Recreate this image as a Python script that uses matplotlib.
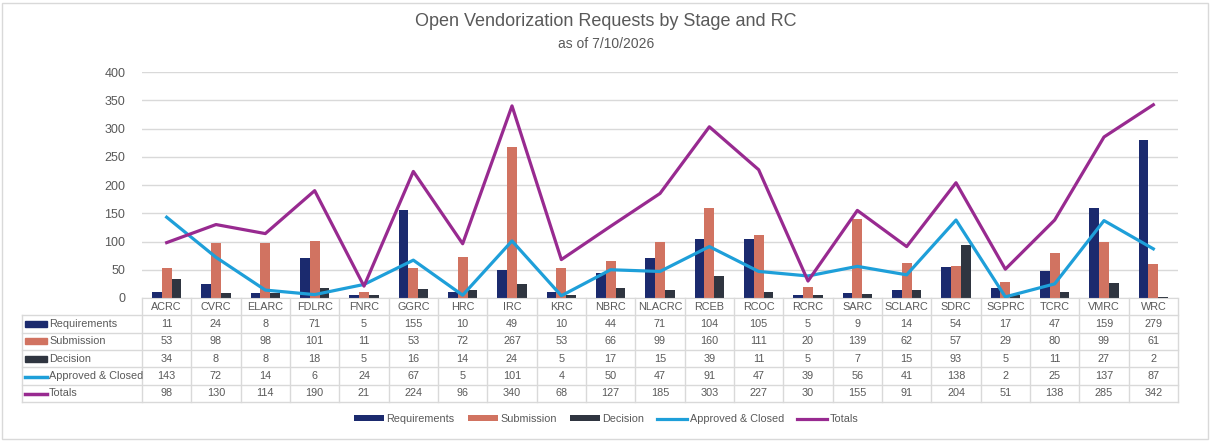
import matplotlib.pyplot as plt
import matplotlib.patches as mpatches
from matplotlib.lines import Line2D
import numpy as np

plt.rcParams['font.family'] = ['Liberation Sans', 'DejaVu Sans']

rcs = ['ACRC', 'CVRC', 'ELARC', 'FDLRC', 'FNRC', 'GGRC', 'HRC', 'IRC', 'KRC', 'NBRC', 'NLACRC',
       'RCEB', 'RCOC', 'RCRC', 'SARC', 'SCLARC', 'SDRC', 'SGPRC', 'TCRC', 'VMRC', 'WRC']
requirements = [11, 24, 8, 71, 5, 155, 10, 49, 10, 44, 71, 104, 105, 5, 9, 14, 54, 17, 47, 159, 279]
submission = [53, 98, 98, 101, 11, 53, 72, 267, 53, 66, 99, 160, 111, 20, 139, 62, 57, 29, 80, 99, 61]
decision = [34, 8, 8, 18, 5, 16, 14, 24, 5, 17, 15, 39, 11, 5, 7, 15, 93, 5, 11, 27, 2]
approved = [143, 72, 14, 6, 24, 67, 5, 101, 4, 50, 47, 91, 47, 39, 56, 41, 138, 2, 25, 137, 87]
totals = [98, 130, 114, 190, 21, 224, 96, 340, 68, 127, 185, 303, 227, 30, 155, 91, 204, 51, 138, 285, 342]

c_req = '#1b2a6e'
c_sub = '#d17361'
c_dec = '#2f3540'
c_app = '#1e9fd9'
c_tot = '#982a90'
txt = '#595959'
grid = '#d9d9d9'
fs = 7.8

W, H = 1212, 442
fig = plt.figure(figsize=(W / 100, H / 100), dpi=100)
fig.patches.append(mpatches.Rectangle((2 / W, 3 / H), 1206 / W, 436 / H, transform=fig.transFigure,
                                      fill=False, edgecolor='#d9d9d9', linewidth=1))

px = lambda x: x / W
py = lambda y: 1 - y / H

left, right, top, bottom = 142, 1178, 72, 298
ax = fig.add_axes([px(left), py(bottom), px(right - left), (bottom - top) / H])

x = np.arange(len(rcs))
bw = 0.2
b1 = ax.bar(x - bw, requirements, bw, color=c_req, label='Requirements', zorder=2)
b2 = ax.bar(x, submission, bw, color=c_sub, label='Submission', zorder=2)
b3 = ax.bar(x + bw, decision, bw, color=c_dec, label='Decision', zorder=2)
l1, = ax.plot(x, approved, color=c_app, lw=2.3, label='Approved & Closed', zorder=3)
l2, = ax.plot(x, totals, color=c_tot, lw=2.3, label='Totals', zorder=3)

ax.set_xlim(-0.5, len(rcs) - 0.5)
ax.set_ylim(0, 400)
ax.set_yticks(range(0, 401, 50))
ax.yaxis.grid(True, color=grid, lw=1)
ax.set_axisbelow(True)
for s in ['top', 'right', 'left']:
    ax.spines[s].set_visible(False)
ax.spines['bottom'].set_color(grid)
ax.set_xticks([])
ax.tick_params(axis='y', length=0, labelsize=9, labelcolor=txt, pad=12)

# data table below the plot
row_h = 17.3
hdr_top = bottom
rows = [('Requirements', requirements, c_req, 'bar'),
        ('Submission', submission, c_sub, 'bar'),
        ('Decision', decision, c_dec, 'bar'),
        ('Approved & Closed', approved, c_app, 'line'),
        ('Totals', totals, c_tot, 'line')]
tab_left = 22
tab_bot = hdr_top + row_h * (len(rows) + 1)
colw = (right - left) / len(rcs)
lc = '#d9d9d9'

for i in range(len(rcs) + 1):
    xx = left + i * colw
    fig.add_artist(Line2D([px(xx), px(xx)], [py(hdr_top), py(tab_bot)], color=lc, lw=1))
fig.add_artist(Line2D([px(tab_left), px(tab_left)], [py(hdr_top + row_h), py(tab_bot)], color=lc, lw=1))
for j in range(1, len(rows) + 2):
    yy = hdr_top + j * row_h
    fig.add_artist(Line2D([px(tab_left), px(right)], [py(yy), py(yy)], color=lc, lw=1))

for i, name in enumerate(rcs):
    fig.text(px(left + (i + 0.5) * colw), py(hdr_top + row_h / 2), name, ha='center', va='center',
             fontsize=fs, color=txt)

for j, (label, vals, col, kind) in enumerate(rows):
    yc = hdr_top + (j + 1.5) * row_h
    if kind == 'bar':
        fig.patches.append(mpatches.Rectangle((px(25), py(yc + 3)), px(22), 6 / H,
                                              transform=fig.transFigure, color=col))
    else:
        fig.add_artist(Line2D([px(25), px(47)], [py(yc + 1), py(yc + 1)], color=col, lw=2.5))
    fig.text(px(49), py(yc), label, ha='left', va='center', fontsize=fs, color=txt)
    for i, v in enumerate(vals):
        fig.text(px(left + (i + 0.5) * colw), py(yc), str(v), ha='center', va='center',
                 fontsize=fs, color=txt)

fig.text(0.5, py(22), 'Open Vendorization Requests by Stage and RC', ha='center', va='center',
         fontsize=13, color=txt)
fig.text(0.5, py(44), 'as of 7/10/2026', ha='center', va='center', fontsize=10, color=txt)

fig.legend([b1, b2, b3, l1, l2], ['Requirements', 'Submission', 'Decision', 'Approved & Closed', 'Totals'],
           loc='center', bbox_to_anchor=(0.5, py(419)), ncol=5, frameon=False,
           fontsize=fs, labelcolor=txt, handlelength=2.8, handleheight=0.5, columnspacing=1.2,
           handletextpad=0.2)

fig.savefig('out.png', dpi=100)
